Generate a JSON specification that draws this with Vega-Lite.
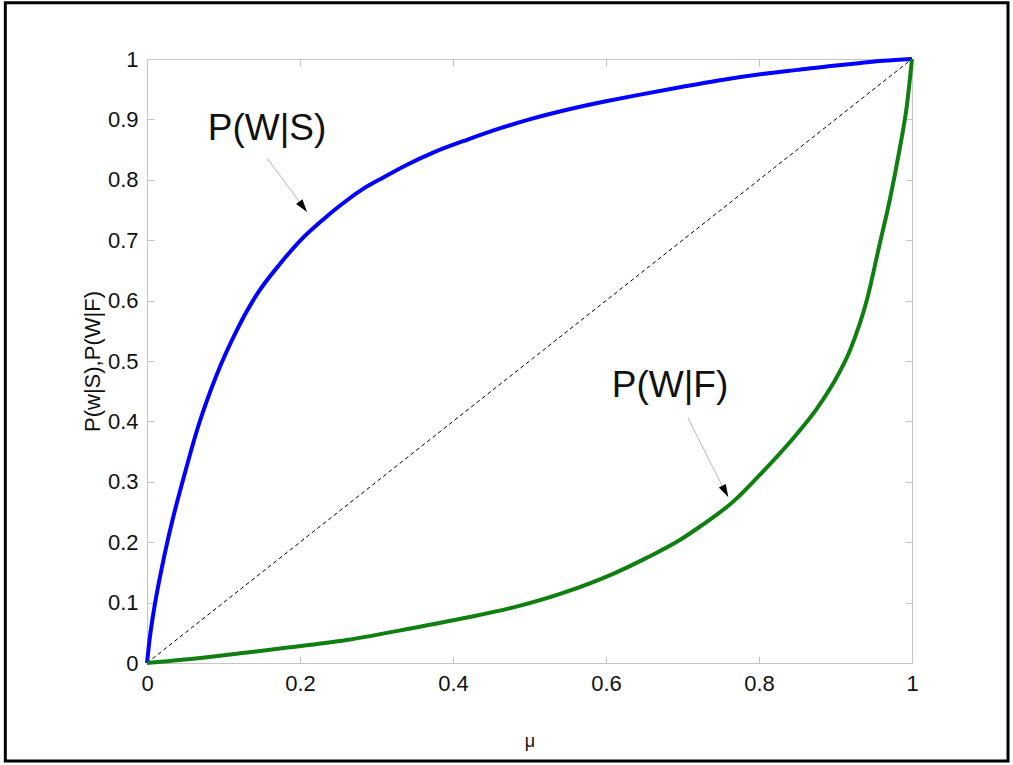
{
  "$schema": "https://vega.github.io/schema/vega-lite/v6.json",
  "width": 765,
  "height": 604,
  "autosize": {"type": "none"},
  "padding": {"left": 147, "top": 59, "right": 101, "bottom": 102},
  "background": "white",
  "data": {"values": [{"one": 1}]},
  "config": {
    "view": {"stroke": "#c4c4c4", "strokeWidth": 1},
    "font": "Liberation Sans",
    "axis": {
      "domain": false,
      "grid": false,
      "tickColor": "#c4c4c4",
      "tickSize": -7,
      "labelFlush": false,
      "labelFont": "Liberation Sans",
      "labelFontSize": 22,
      "labelColor": "#111111",
      "titleFont": "Liberation Sans",
      "titleFontWeight": "normal",
      "titleColor": "#111111"
    }
  },
  "datasets": {
    "curves": [
      {"mu": 0, "p": 0, "s": "S"},
      {"mu": 0.004, "p": 0.045, "s": "S"},
      {"mu": 0.0083, "p": 0.082, "s": "S"},
      {"mu": 0.0214, "p": 0.17, "s": "S"},
      {"mu": 0.034, "p": 0.24, "s": "S"},
      {"mu": 0.0475, "p": 0.305, "s": "S"},
      {"mu": 0.067, "p": 0.392, "s": "S"},
      {"mu": 0.091, "p": 0.477, "s": "S"},
      {"mu": 0.117, "p": 0.55, "s": "S"},
      {"mu": 0.143, "p": 0.609, "s": "S"},
      {"mu": 0.174, "p": 0.661, "s": "S"},
      {"mu": 0.2, "p": 0.699, "s": "S"},
      {"mu": 0.23, "p": 0.734, "s": "S"},
      {"mu": 0.252, "p": 0.757, "s": "S"},
      {"mu": 0.28, "p": 0.783, "s": "S"},
      {"mu": 0.309, "p": 0.804, "s": "S"},
      {"mu": 0.34, "p": 0.825, "s": "S"},
      {"mu": 0.374, "p": 0.845, "s": "S"},
      {"mu": 0.42, "p": 0.867, "s": "S"},
      {"mu": 0.461, "p": 0.885, "s": "S"},
      {"mu": 0.5, "p": 0.9, "s": "S"},
      {"mu": 0.549, "p": 0.916, "s": "S"},
      {"mu": 0.6, "p": 0.93, "s": "S"},
      {"mu": 0.636, "p": 0.939, "s": "S"},
      {"mu": 0.7, "p": 0.954, "s": "S"},
      {"mu": 0.745, "p": 0.964, "s": "S"},
      {"mu": 0.81, "p": 0.976, "s": "S"},
      {"mu": 0.85, "p": 0.982, "s": "S"},
      {"mu": 0.897, "p": 0.989, "s": "S"},
      {"mu": 0.93, "p": 0.993, "s": "S"},
      {"mu": 0.962, "p": 0.997, "s": "S"},
      {"mu": 1, "p": 1, "s": "S"},
      {"mu": 0, "p": 0, "s": "F"},
      {"mu": 0.06, "p": 0.007, "s": "F"},
      {"mu": 0.122, "p": 0.016, "s": "F"},
      {"mu": 0.174, "p": 0.024, "s": "F"},
      {"mu": 0.261, "p": 0.038, "s": "F"},
      {"mu": 0.348, "p": 0.058, "s": "F"},
      {"mu": 0.413, "p": 0.074, "s": "F"},
      {"mu": 0.479, "p": 0.092, "s": "F"},
      {"mu": 0.544, "p": 0.116, "s": "F"},
      {"mu": 0.61, "p": 0.148, "s": "F"},
      {"mu": 0.653, "p": 0.174, "s": "F"},
      {"mu": 0.697, "p": 0.204, "s": "F"},
      {"mu": 0.723, "p": 0.226, "s": "F"},
      {"mu": 0.767, "p": 0.268, "s": "F"},
      {"mu": 0.803, "p": 0.314, "s": "F"},
      {"mu": 0.85, "p": 0.38, "s": "F"},
      {"mu": 0.875, "p": 0.42, "s": "F"},
      {"mu": 0.897, "p": 0.463, "s": "F"},
      {"mu": 0.919, "p": 0.518, "s": "F"},
      {"mu": 0.941, "p": 0.601, "s": "F"},
      {"mu": 0.958, "p": 0.695, "s": "F"},
      {"mu": 0.971, "p": 0.767, "s": "F"},
      {"mu": 0.984, "p": 0.852, "s": "F"},
      {"mu": 0.993, "p": 0.92, "s": "F"},
      {"mu": 1, "p": 1, "s": "F"}
    ]
  },
  "layer": [
    {
      "mark": {"type": "rect", "fillOpacity": 0, "stroke": "black", "strokeWidth": 3, "clip": false},
      "encoding": {
        "x": {"datum": -0.1852, "type": "quantitative", "scale": {"domain": [0, 1]}, "axis": null},
        "x2": {"datum": 1.1255},
        "y": {"datum": 1.0931, "type": "quantitative", "scale": {"domain": [0, 1]}, "axis": null},
        "y2": {"datum": -0.1623}
      }
    },
    {
      "mark": {"type": "rule", "color": "black", "strokeWidth": 1, "strokeDash": [4, 3]},
      "encoding": {
        "x": {"datum": 0, "type": "quantitative", "scale": {"domain": [0, 1]},
              "axis": {"orient": "top", "labels": false, "title": null, "values": [0, 0.2, 0.4, 0.6, 0.8, 1]}},
        "x2": {"datum": 1},
        "y": {"datum": 0, "type": "quantitative", "scale": {"domain": [0, 1]},
              "axis": {"orient": "right", "labels": false, "title": null, "values": [0, 0.1, 0.2, 0.3, 0.4, 0.5, 0.6, 0.7, 0.8, 0.9, 1]}},
        "y2": {"datum": 1}
      }
    },
    {
      "data": {"name": "curves"},
      "mark": {"type": "line", "strokeWidth": 4, "interpolate": "monotone"},
      "encoding": {
        "x": {"field": "mu", "type": "quantitative", "scale": {"domain": [0, 1]},
              "axis": {"orient": "bottom", "values": [0, 0.2, 0.4, 0.6, 0.8, 1], "format": "~g", "labelPadding": 17, "title": "μ", "titleFontSize": 18, "titlePadding": 38}},
        "y": {"field": "p", "type": "quantitative", "scale": {"domain": [0, 1]},
              "axis": {"orient": "left", "values": [0, 0.1, 0.2, 0.3, 0.4, 0.5, 0.6, 0.7, 0.8, 0.9, 1], "format": "~g", "labelPadding": 16, "title": "P(w|S),P(W|F)", "titleFontSize": 22, "titlePadding": 3}},
        "color": {"field": "s", "type": "nominal", "scale": {"domain": ["S", "F"], "range": ["#0000ff", "#0f7f0f"]}, "legend": null},
        "detail": {"field": "s"}
      }
    },
    {
      "mark": {"type": "rule", "color": "#b8b8b8", "strokeWidth": 1},
      "encoding": {
        "x": {"datum": 0.1569, "type": "quantitative", "scale": {"domain": [0, 1]}, "axis": null},
        "y": {"datum": 0.8361, "type": "quantitative", "scale": {"domain": [0, 1]}, "axis": null},
        "x2": {"datum": 0.1991},
        "y2": {"datum": 0.7641}
      }
    },
    {
      "mark": {"type": "rule", "color": "#b8b8b8", "strokeWidth": 1},
      "encoding": {
        "x": {"datum": 0.7072, "type": "quantitative", "scale": {"domain": [0, 1]}, "axis": null},
        "y": {"datum": 0.4056, "type": "quantitative", "scale": {"domain": [0, 1]}, "axis": null},
        "x2": {"datum": 0.7519},
        "y2": {"datum": 0.2934}
      }
    },
    {
      "mark": {"type": "point", "shape": "M-0.6,-1L0.6,-1L0,1Z", "filled": true, "color": "black", "opacity": 1, "size": 169, "angle": 323.5},
      "encoding": {
        "x": {"datum": 0.2041, "type": "quantitative", "scale": {"domain": [0, 1]}, "axis": null},
        "y": {"datum": 0.7553, "type": "quantitative", "scale": {"domain": [0, 1]}, "axis": null}
      }
    },
    {
      "mark": {"type": "point", "shape": "M-0.6,-1L0.6,-1L0,1Z", "filled": true, "color": "black", "opacity": 1, "size": 169, "angle": 332.2},
      "encoding": {
        "x": {"datum": 0.756, "type": "quantitative", "scale": {"domain": [0, 1]}, "axis": null},
        "y": {"datum": 0.284, "type": "quantitative", "scale": {"domain": [0, 1]}, "axis": null}
      }
    },
    {
      "mark": {"type": "text", "text": "P(W|S)", "font": "Liberation Sans", "fontSize": 37, "color": "#111111", "align": "center", "baseline": "alphabetic"},
      "encoding": {
        "x": {"datum": 0.1569, "type": "quantitative", "scale": {"domain": [0, 1]}, "axis": null},
        "y": {"datum": 0.866, "type": "quantitative", "scale": {"domain": [0, 1]}, "axis": null}
      }
    },
    {
      "mark": {"type": "text", "text": "P(W|F)", "font": "Liberation Sans", "fontSize": 37, "color": "#111111", "align": "center", "baseline": "alphabetic"},
      "encoding": {
        "x": {"datum": 0.6837, "type": "quantitative", "scale": {"domain": [0, 1]}, "axis": null},
        "y": {"datum": 0.4404, "type": "quantitative", "scale": {"domain": [0, 1]}, "axis": null}
      }
    }
  ],
  "resolve": {"axis": {"x": "independent", "y": "independent"}}
}
